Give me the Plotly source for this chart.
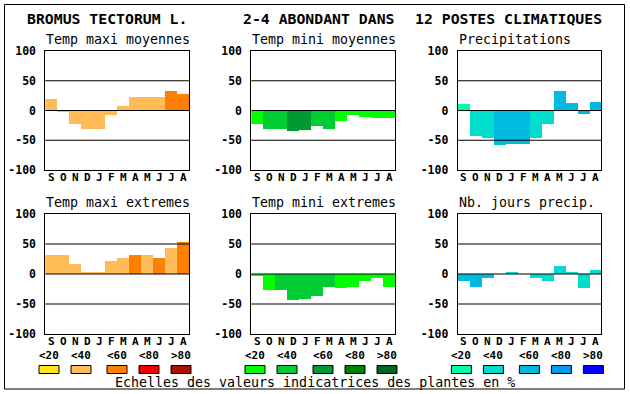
import plotly.graph_objects as go

W, H = 630, 394

months = ["S", "O", "N", "D", "J", "F", "M", "A", "M", "J", "J", "A"]
y_ticks = [100, 50, 0, -50, -100]
y_ticktext = ["100", "50", "0", "-50", "-100"]
grid_vals = [50, 0, -50]

header = ["BROMUS TECTORUM L.", "2-4 ABONDANT DANS", "12 POSTES CLIMATIQUES"]
titles = ["Temp maxi moyennes", "Temp mini moyennes", "Precipitations",
          "Temp maxi extremes", "Temp mini extremes", "Nb. jours precip."]

# values (%) per month
v_tmax_moy = [20, -3, -23, -31, -31, -8, 7, 22, 23, 23, 33, 27]
v_tmin_moy = [-22, -31, -31, -34, -33, -26, -31, -18, -8, -11, -13, -13]
v_precip = [11, -43, -46, -58, -56, -56, -46, -23, 32, 12, -6, 15]
v_tmax_ext = [32, 31, 16, 4, 4, 22, 27, 31, 31, 27, 44, 54]
v_tmin_ext = [-4, -27, -27, -44, -42, -37, -21, -24, -22, -11, -7, -21]
v_njours = [-12, -21, -6, 0, 2, 0, -6, -11, 14, 2, -24, 7]

# class index (0..4 : <20 <40 <60 <80 >80) per month
c_tmax_moy = [1, 1, 1, 1, 1, 1, 1, 1, 1, 1, 2, 2]
c_tmin_moy = [0, 1, 1, 2, 2, 1, 1, 0, 0, 0, 0, 0]
c_precip = [0, 1, 1, 2, 2, 2, 1, 1, 2, 2, 2, 2]
c_tmax_ext = [1, 1, 1, 1, 1, 1, 1, 2, 1, 2, 1, 2]
c_tmin_ext = [0, 0, 1, 1, 1, 1, 1, 0, 0, 0, 0, 0]
c_njours = [2, 2, 2, 1, 1, 1, 1, 1, 1, 1, 1, 1]

legend_labels = ["<20", "<40", "<60", "<80", ">80"]
pal_temp_max = ["#FFE41A", "#FFBB55", "#FF8000", "#EE0000", "#AA1100"]
pal_temp_min = ["#00FF00", "#00CC33", "#009933", "#008000", "#006622"]
pal_precip = ["#00FFAA", "#00DDCC", "#00BBDD", "#0099EE", "#0000FF"]

panels = [
    (v_tmax_moy, c_tmax_moy, pal_temp_max),
    (v_tmin_moy, c_tmin_moy, pal_temp_min),
    (v_precip, c_precip, pal_precip),
    (v_tmax_ext, c_tmax_ext, pal_temp_max),
    (v_tmin_ext, c_tmin_ext, pal_temp_min),
    (v_njours, c_njours, pal_precip),
]

# layout in pixels
col_x = [(45.3, 189.3), (251.3, 395.3), (457.7, 601.3)]
row_y = [(51, 170), (214, 334)]

def px(x):
    return x / W

def py(y):
    return 1 - y / H

MONO = "DejaVu Sans Mono"
SMALL = 11
fig = go.Figure()
shapes = []
annotations = []

for i, (vals, cls, pal) in enumerate(panels):
    r, c = divmod(i, 3)
    n = "" if i == 0 else str(i + 1)
    fig.add_trace(go.Bar(
        x=list(range(len(months))), y=vals,
        marker=dict(color=[pal[k] for k in cls], line=dict(width=0)),
        width=1.0, xaxis="x" + n, yaxis="y" + n, showlegend=False,
        hoverinfo="y",
    ))
    x0, x1 = col_x[c]
    y0, y1 = row_y[r]
    fig.layout["xaxis" + n] = dict(
        domain=[px(x0), px(x1)], range=[-0.5, 11.5], anchor="y" + n,
        showticklabels=False, showgrid=False,
        zeroline=False, showline=True, mirror=True, linecolor="black",
        linewidth=1, ticks="", fixedrange=True, automargin=False,
    )
    fig.layout["yaxis" + n] = dict(
        domain=[py(y1), py(y0)], range=[-100, 100], anchor="x" + n,
        tickvals=y_ticks, ticktext=y_ticktext, showgrid=False,
        zeroline=False, showline=True, mirror=True, linecolor="black",
        linewidth=1, ticks="outside", ticklen=6, tickcolor="rgba(0,0,0,0)",
        tickfont=dict(family=MONO, size=11.5, color="black", weight="bold"),
        fixedrange=True, automargin=False,
    )
    for g in grid_vals:
        shapes.append(dict(type="line", xref="x" + n + " domain", yref="y" + n,
                           x0=0, x1=1, y0=g, y1=g, layer="above",
                           line=dict(color="black", width=1)))
    annotations.append(dict(
        text=titles[i], x=px(x0 - 1), y=py(y0 - 12), xref="paper", yref="paper",
        xanchor="left", yanchor="middle", showarrow=False,
        font=dict(family=MONO, size=13.3, color="black")))
    # month labels under the axis
    for k, m in enumerate(months):
        annotations.append(dict(
            text=m, x=k, y=py(y1 + 7), xref="x" + n, yref="paper",
            xanchor="center", yanchor="middle", showarrow=False, borderpad=0,
            font=dict(family=MONO, size=SMALL, color="black", weight="bold")))

# header
header_cx = [107, 319, 508.5]
for t, cx in zip(header, header_cx):
    annotations.append(dict(
        text=t, x=px(cx), y=py(18), xref="paper", yref="paper",
        xanchor="center", yanchor="middle", showarrow=False,
        font=dict(family=MONO, size=14.8, color="black", weight="bold")))

# legend swatches
offsets = [0, 32, 68, 100, 132]
for pal, (x0, _) in zip([pal_temp_max, pal_temp_min, pal_precip], col_x):
    start = x0 - 6.3
    for k, (lab, col) in enumerate(zip(legend_labels, pal)):
        sx = start + offsets[k]
        shapes.append(dict(type="rect", xref="paper", yref="paper",
                           x0=px(sx), x1=px(sx + 20), y0=py(373.5), y1=py(365.5),
                           fillcolor=col, line=dict(color="black", width=1)))
        annotations.append(dict(
            text=lab, x=px(sx + 10), y=py(355), xref="paper", yref="paper",
            xanchor="center", yanchor="middle", showarrow=False, borderpad=0,
            font=dict(family=MONO, size=SMALL, color="black", weight="bold")))

annotations.append(dict(
    text="Echelles des valeurs indicatrices des plantes en %",
    x=px(314.5), y=py(382), xref="paper", yref="paper",
    xanchor="center", yanchor="middle", showarrow=False,
    font=dict(family=MONO, size=13.3, color="black")))

# outer border
shapes.append(dict(type="rect", xref="paper", yref="paper",
                   x0=px(4.5), x1=px(624.5), y0=py(389), y1=py(4.5),
                   line=dict(color="black", width=1), fillcolor="rgba(0,0,0,0)"))

fig.update_layout(
    width=W, height=H, margin=dict(l=0, r=0, t=0, b=0, pad=0),
    autosize=False,
    paper_bgcolor="white", plot_bgcolor="white",
    shapes=shapes, annotations=annotations, bargap=0,
    font=dict(family=MONO, color="black"),
)

fig.write_html(
    "out.html",
    config={"displayModeBar": False, "responsive": False},
    post_script="document.body.style.margin='0';document.body.style.overflow='hidden';",
)
